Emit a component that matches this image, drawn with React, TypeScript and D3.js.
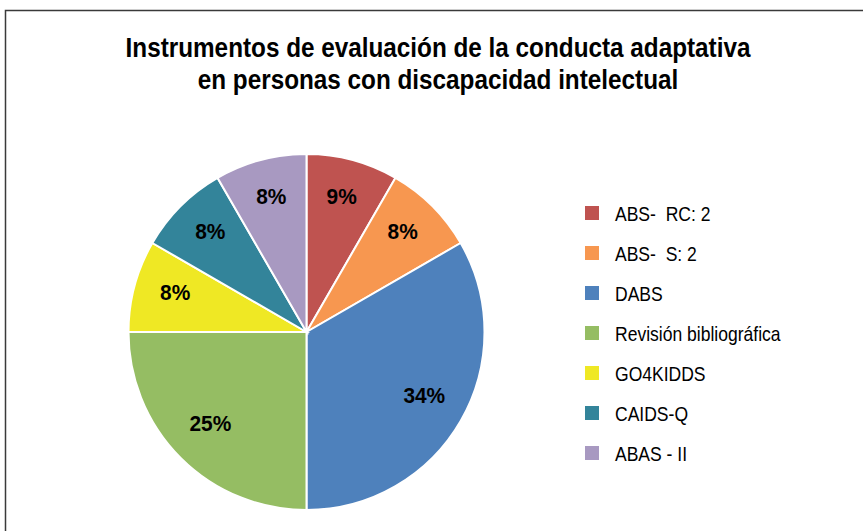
import * as d3 from 'd3'

const categories = ['ABS-  RC: 2', 'ABS-  S: 2', 'DABS', 'Revisión bibliográfica', 'GO4KIDDS', 'CAIDS-Q', 'ABAS - II']
const counts = [1, 1, 4, 3, 1, 1, 1]
const pctLabels = ['9%', '8%', '34%', '25%', '8%', '8%', '8%']
const colors = ['#BF5350', '#F79750', '#4E81BC', '#95BD63', '#EFE824', '#33849A', '#A899C1']
const titleLines = ['Instrumentos de evaluación de la conducta adaptativa', 'en personas con discapacidad intelectual']

// no narrow font installed, so Liberation Sans gets squeezed horizontally
const font = "'Liberation Sans', Arial, sans-serif"

export default function App() {
  const width = 863
  const height = 531
  const cx = 306.5
  const cy = 332
  const radius = 178

  const pie = d3
    .pie<number>()
    .sort(null)
    .value((d) => d)
  const arcs = pie(counts)
  const arc = d3.arc<d3.PieArcDatum<number>>().innerRadius(0).outerRadius(radius)
  const labelArc = d3.arc<d3.PieArcDatum<number>>().innerRadius(136).outerRadius(136)

  const legendY = d3.scalePoint<string>().domain(categories).range([213, 453])

  return (
    <svg
      width={width}
      height={height}
      style={{ position: 'absolute', left: 0, top: 0, background: '#fff' }}
      fontFamily={font}
    >
      <rect x={5.5} y={10.5} width={width + 20} height={height + 20} fill="#fff" stroke="#3a3a3a" strokeWidth={1.5} />

      {titleLines.map((t, i) => (
        <text
          key={t}
          transform={`translate(438,${57 + i * 32}) scale(0.9,1)`}
          textAnchor="middle"
          fontSize={27}
          fontWeight="bold"
          fill="#000"
        >
          {t}
        </text>
      ))}

      <g transform={`translate(${cx},${cy})`}>
        {arcs.map((a, i) => (
          <path key={categories[i]} d={arc(a) || ''} fill={colors[i]} stroke="#fff" strokeWidth={2} />
        ))}
        {arcs.map((a, i) => {
          const [x, y] = labelArc.centroid(a)
          return (
            <text
              key={'l' + i}
              transform={`translate(${x},${y + 3}) scale(0.95,1)`}
              textAnchor="middle"
              fontSize={22}
              fontWeight="bold"
              fill="#000"
            >
              {pctLabels[i]}
            </text>
          )
        })}
      </g>

      <g>
        {categories.map((c, i) => (
          <g key={c} transform={`translate(585,${legendY(c)})`}>
            <rect x={0} y={-7} width={14} height={14} fill={colors[i]} />
            <text
              transform="translate(30,7.5) scale(0.835,1)"
              fontSize={21}
              fill="#000"
              style={{ whiteSpace: 'pre' }}
            >
              {c}
            </text>
          </g>
        ))}
      </g>
    </svg>
  )
}
